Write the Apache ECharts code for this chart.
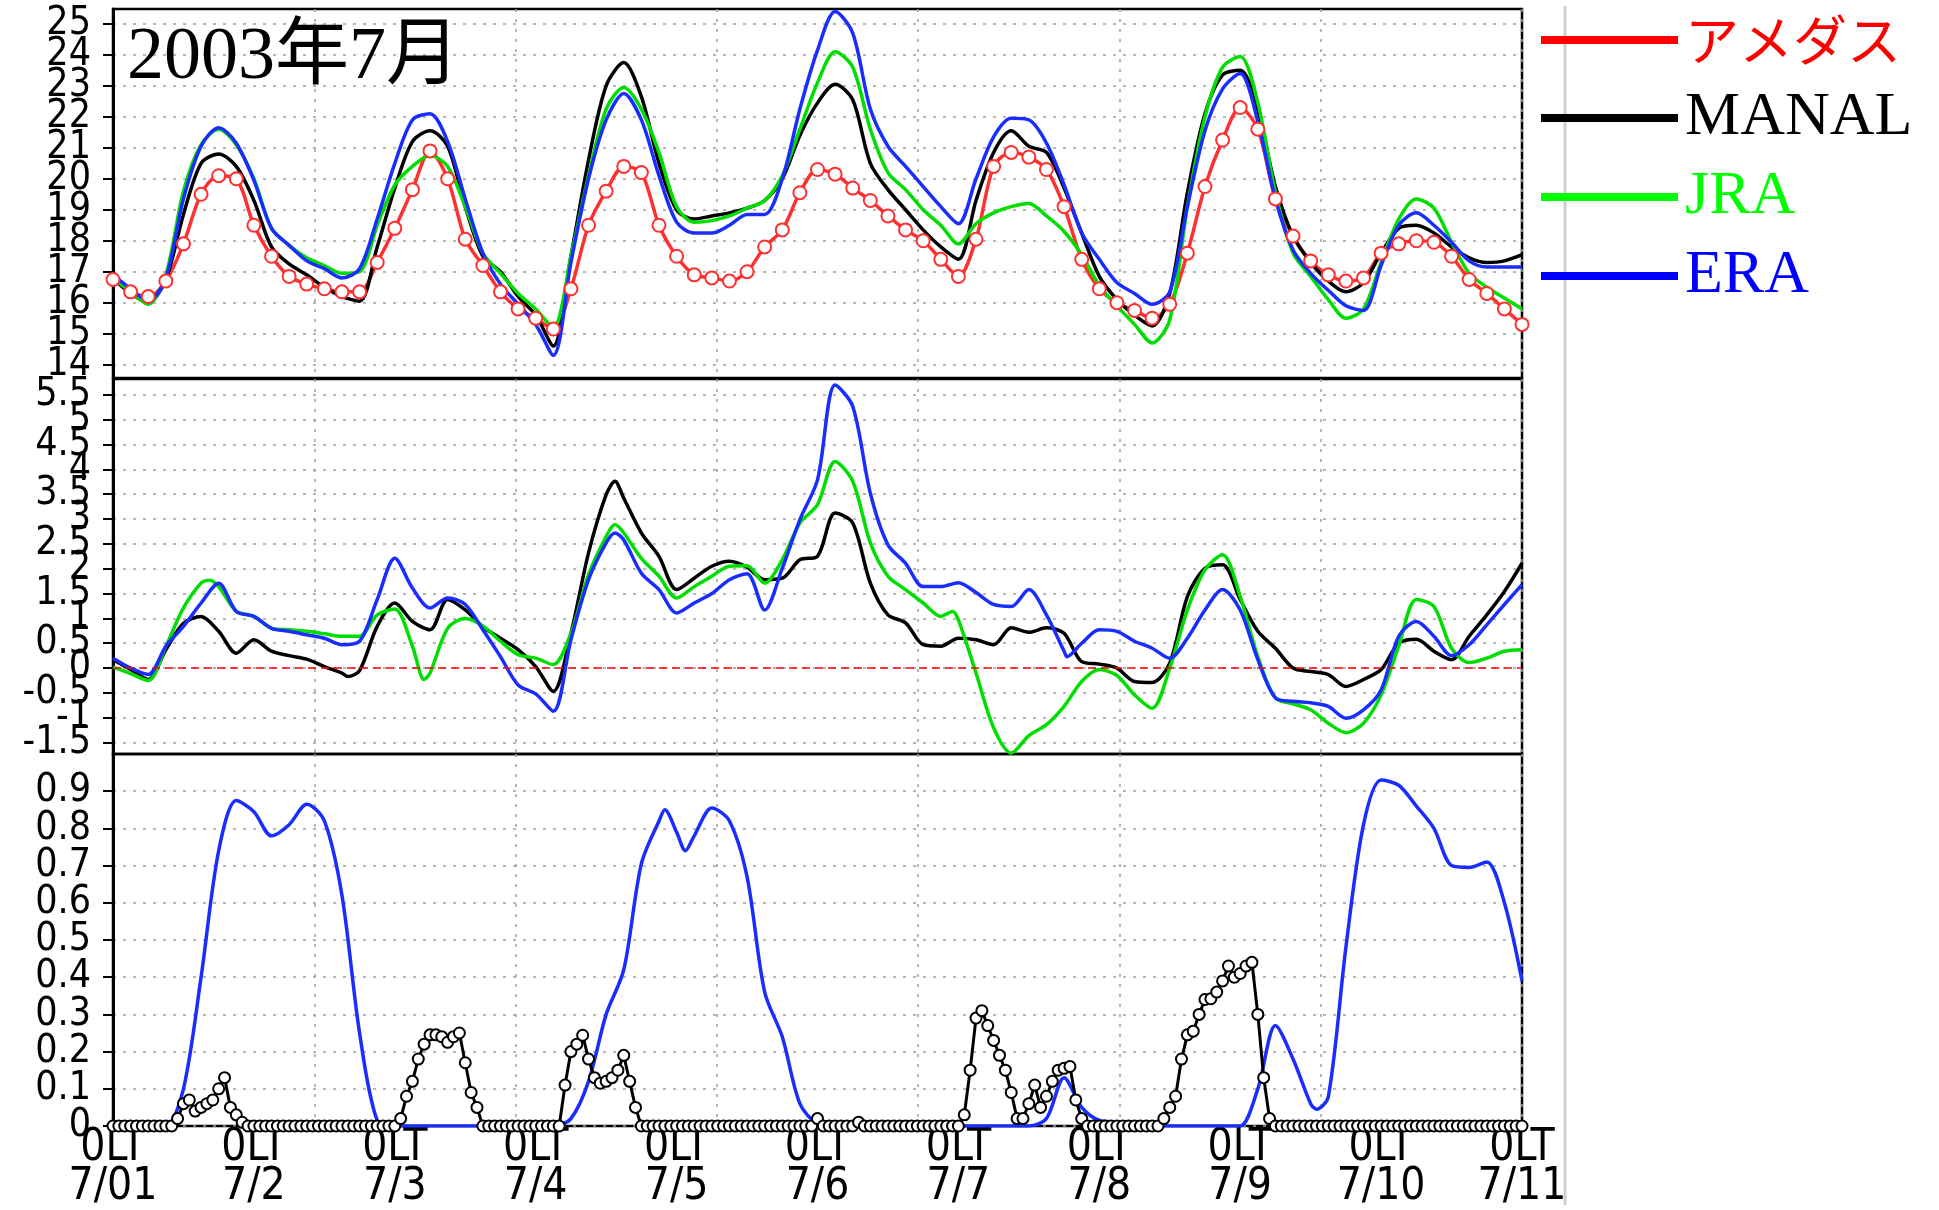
<!DOCTYPE html>
<html><head><meta charset="utf-8">
<script src="https://cdn.jsdelivr.net/npm/echarts@6/dist/echarts.min.js"></script>
<style>html,body{margin:0;padding:0;background:#fff}#c{width:1939px;height:1210px}</style>
</head><body><div id="c"></div>
<script>
// ---------------- data ----------------
const xTickLabels = ['0LT\n7/01','0LT\n7/2','0LT\n7/3','0LT\n7/4','0LT\n7/5','0LT\n7/6','0LT\n7/7','0LT\n7/8','0LT\n7/9','0LT\n7/10','0LT\n7/11'];
const tempTicks = [14,15,16,17,18,19,20,21,22,23,24,25];
const diffTicks = [-1.5,-1,-0.5,0,0.5,1,1.5,2,2.5,3,3.5,4,4.5,5,5.5];
const rainTicks = [0,0.1,0.2,0.3,0.4,0.5,0.6,0.7,0.8,0.9];
const seriesNames = ['アメダス','MANAL','JRA','ERA'];
const titleText = '2003年7月';

// top panel: 3-hourly values starting 7/01 0LT
const tempAmedas = [16.75,16.35,16.2,16.7,17.9,19.5,20.1,20.0,
 18.5,17.5,16.85,16.6,16.45,16.35,16.35,17.3,
 18.4,19.65,20.9,20.0,18.05,17.2,16.35,15.8,
 15.5,15.15,16.45,18.5,19.6,20.4,20.2,18.5,
 17.5,16.9,16.8,16.7,17.0,17.8,18.35,19.55,
 20.3,20.15,19.7,19.3,18.8,18.35,18.0,17.4,
 16.85,18.05,20.4,20.85,20.7,20.3,19.1,17.4,
 16.45,16.0,15.75,15.5,15.95,17.6,19.75,21.25,
 22.3,21.6,19.35,18.15,17.35,16.9,16.7,16.8,
 17.6,17.9,18.0,17.95,17.5,16.75,16.3,15.8,
 15.3];
const tempManal = [16.8,16.3,16.0,16.75,18.85,20.5,20.8,20.4,
 19.3,17.8,17.25,16.9,16.5,16.2,16.05,17.8,
 19.7,21.2,21.55,21.05,19.1,17.5,17.0,16.2,
 15.6,14.6,17.5,20.6,23.0,23.75,22.65,20.5,
 19.0,18.7,18.8,18.9,19.05,19.3,20.0,21.4,
 22.45,23.05,22.55,20.5,19.65,19.0,18.35,17.8,
 17.4,19.3,20.85,21.55,21.05,20.85,19.7,18.25,
 16.85,16.1,15.6,15.25,16.3,19.55,22.1,23.35,
 23.5,22.2,19.75,18.15,17.3,16.7,16.35,16.65,
 17.6,18.4,18.5,18.25,17.8,17.45,17.3,17.35,
 17.55];
const tempJra = [16.8,16.35,15.95,16.9,19.6,21.1,21.6,21.1,
 20.0,18.4,17.85,17.45,17.2,16.95,17.0,18.5,
 19.8,20.4,20.75,20.4,19.1,17.6,16.95,16.3,
 15.8,15.2,17.5,20.1,22.25,22.95,22.25,20.85,
 19.1,18.6,18.65,18.8,19.05,19.3,20.1,21.6,
 23.1,24.1,23.6,21.6,20.2,19.65,19.0,18.5,
 17.9,18.55,18.9,19.1,19.2,18.8,18.3,17.55,
 16.55,15.9,15.3,14.7,15.45,19.1,22.0,23.6,
 23.95,22.45,19.55,17.6,16.85,16.1,15.5,15.8,
 17.3,18.7,19.35,19.05,17.95,16.95,16.5,16.15,
 15.8];
const tempEra = [16.9,16.45,16.05,16.8,19.35,21.05,21.65,21.15,
 19.95,18.4,17.85,17.35,17.1,16.8,17.1,18.7,
 20.5,21.9,22.1,21.2,19.35,17.6,16.6,15.95,
 15.3,14.3,17.3,20.0,21.9,22.75,21.9,20.1,
 18.6,18.25,18.25,18.5,18.85,18.85,20.0,22.25,
 24.15,25.4,24.7,22.25,21.05,20.4,19.75,19.1,
 18.55,20.0,21.35,21.95,21.9,21.15,19.8,18.25,
 17.4,16.65,16.3,15.95,16.35,19.1,21.55,22.9,
 23.4,21.85,19.35,17.7,16.95,16.4,15.9,15.75,
 17.2,18.5,18.9,18.5,17.95,17.35,17.15,17.15,
 17.15];

// middle panel: 3-hourly values, plus a few extra [hour, value] points at extremes
const diffManal = [0.17,-0.03,-0.23,0.37,0.9,1.04,0.74,0.3,
 0.57,0.34,0.25,0.18,0.03,-0.1,-0.05,0.84,
 1.31,0.94,0.77,1.38,1.17,0.83,0.6,0.37,
 0.03,-0.47,0.7,2.32,3.49,3.42,2.72,2.25,
 1.58,1.81,2.05,2.15,2.03,1.78,1.81,2.18,
 2.25,3.12,2.92,1.71,1.07,0.91,0.47,0.44,
 0.6,0.57,0.47,0.81,0.72,0.81,0.7,0.13,
 0.08,0.0,-0.27,-0.29,0.1,1.44,2.01,2.08,
 1.38,0.74,0.4,0.0,-0.07,-0.13,-0.37,-0.23,
 -0.03,0.5,0.58,0.34,0.17,0.64,1.07,1.54,
 2.11];
const diffManalExtra = [[40,-0.17],[85.5,3.76]];
const diffJra = [0.02,-0.11,-0.25,0.44,1.21,1.71,1.64,1.14,
 1.04,0.8,0.77,0.74,0.69,0.64,0.64,1.07,
 1.19,0.44,-0.1,0.8,1.0,0.85,0.54,0.27,
 0.2,0.07,0.7,1.88,2.65,2.72,2.21,1.85,
 1.41,1.64,1.85,2.05,2.06,1.71,2.18,2.92,
 3.29,4.16,3.76,2.52,1.85,1.58,1.31,1.04,
 0.97,-0.1,-1.2,-1.71,-1.36,-1.14,-0.77,-0.27,
 -0.03,-0.15,-0.54,-0.81,0.0,1.17,1.98,2.28,
 1.44,0.23,-0.6,-0.72,-0.84,-1.11,-1.3,-1.11,
 -0.54,0.44,1.38,1.24,0.4,0.11,0.2,0.34,
 0.37];
const diffJraExtra = [[16.5,1.77],[53,-0.23],[85.5,2.89],[143,1.14]];
const diffEra = [0.2,0.0,-0.13,0.44,0.84,1.31,1.71,1.14,
 1.04,0.8,0.74,0.67,0.6,0.47,0.54,1.38,
 2.21,1.61,1.21,1.41,1.28,0.77,0.23,-0.34,
 -0.52,-0.87,0.57,1.78,2.52,2.58,1.91,1.58,
 1.11,1.31,1.5,1.78,1.9,1.17,2.01,2.99,
 3.79,5.7,5.27,3.52,2.48,2.11,1.64,1.64,
 1.72,1.52,1.28,1.24,1.58,1.07,0.34,0.5,
 0.77,0.74,0.54,0.4,0.2,0.6,1.17,1.58,
 1.17,0.17,-0.6,-0.67,-0.7,-0.77,-1.01,-0.84,
 -0.44,0.64,0.94,0.64,0.25,0.47,0.87,1.28,
 1.68];
const diffEraExtra = [[85.5,2.72],[162.5,0.23]];

// bottom panel: ERA 3-hourly, black marked series hourly
const lowerEra = [0,0,0,0,0.1,0.4,0.74,0.875,
 0.845,0.78,0.81,0.865,0.82,0.62,0.25,0.015,
 0,0,0,0,0,0,0,0,
 0,0,0.02,0.12,0.3,0.42,0.705,0.82,
 0.79,0.78,0.855,0.82,0.67,0.36,0.24,0.06,
 0.006,0,0,0,0,0,0,0,
 0,0,0,0,0,0.02,0.13,0.05,
 0.015,0.01,0,0,0,0,0,0,
 0,0.1,0.27,0.18,0.06,0.078,0.48,0.81,
 0.93,0.916,0.86,0.8,0.7,0.695,0.71,0.6,
 0.39];
const lowerEraExtra = [[94,0.85],[97.5,0.74],[205,0.045]];
const lowerManal = [
 0,0,0,0,0,0,0,0,0,0,0,0.02,0.06,0.07,0.04,0.05,0.06,0.07,0.10,0.13,0.05,0.03,0.01,0,
 0,0,0,0,0,0,0,0,0,0,0,0,0,0,0,0,0,0,0,0,0,0,0,0,
 0,0.02,0.08,0.12,0.18,0.22,0.245,0.245,0.24,0.225,0.24,0.25,0.17,0.09,0.05,0,0,0,0,0,0,0,0,0,
 0,0,0,0,0,0.11,0.2,0.22,0.244,0.18,0.13,0.115,0.12,0.13,0.15,0.19,0.12,0.05,0,0,0,0,0,0,
 0,0,0,0,0,0,0,0,0,0,0,0,0,0,0,0,0,0,0,0,0,0,0,0,
 0.02,0,0,0,0,0,0,0.01,0,0,0,0,0,0,0,0,0,0,0,0,0,0,0,0,
 0,0.03,0.15,0.29,0.31,0.27,0.23,0.19,0.15,0.09,0.02,0.02,0.06,0.11,0.05,0.08,0.12,0.15,0.155,0.16,0.07,0.02,0,0,
 0,0,0,0,0,0,0,0,0,0,0,0.02,0.05,0.08,0.18,0.245,0.255,0.3,0.34,0.342,0.36,0.39,0.43,0.4,
 0.41,0.43,0.44,0.3,0.13,0.02,0,0,0,0,0,0,0,0,0,0,0,0,0,0,0,0,0,0,
 0,0,0,0,0,0,0,0,0,0,0,0,0,0,0,0,0,0,0,0,0,0,0,0,
 0];

// ---------------- build ----------------
function every3h(values, extra) {
  const pts = values.map((v, i) => [i * 3, v]);
  if (extra) extra.forEach(p => pts.push(p));
  pts.sort((a, b) => a[0] - b[0]);
  return pts;
}
function hourly(values) { return values.map((v, i) => [i, v]); }

const C = { red: '#ff3030', black: '#000000', green: '#00dd00', blue: '#1a2dff' };
const axisFont = '"Liberation Sans Narrow","DejaVu Sans Condensed","Arial Narrow",sans-serif';
const gridDash = { color: '#a0a0a0', type: [3, 7], width: 1.5 };
const vDivisions = 7;

const grids = [
  { left: 113, top: 9, width: 1409, height: 369 },
  { left: 113, top: 379, width: 1409, height: 375 },
  { left: 113, top: 754, width: 1409, height: 372 }
].map(g => Object.assign(g, { show: true, borderColor: '#000', borderWidth: 2.5 }));

const xAxes = [];
for (let g = 0; g < 3; g++) {
  xAxes.push({
    type: 'value', gridIndex: g, min: 0, max: 240, interval: 24, position: 'bottom',
    axisLine: { show: false }, axisTick: { show: false }, splitLine: { show: false },
    axisLabel: {
      show: g === 2, formatter: v => xTickLabels[Math.round(v / 24)],
      fontFamily: axisFont, fontSize: 44, lineHeight: 39, color: '#000', margin: 3,
      showMinLabel: true, showMaxLabel: true, hideOverlap: false
    }
  });
  xAxes.push({
    type: 'value', gridIndex: g, min: 0, max: vDivisions, interval: 1, position: 'top',
    axisLine: { show: false }, axisTick: { show: false }, axisLabel: { show: false },
    splitLine: { show: true, lineStyle: gridDash }
  });
}

// Two y axes per panel: the first carries line, ticks, grid and every other label;
// the second (same scale, labels only) carries the remaining labels so none are dropped.
function labelStyle(vals) {
  return { customValues: vals, formatter: v => String(v), fontFamily: axisFont, fontSize: 39,
    color: '#000', margin: 22, hideOverlap: false, showMinLabel: true, showMaxLabel: true };
}
function yAxisPair(g, min, max, ticks) {
  const even = ticks.filter((_, i) => i % 2 === 0);
  const odd = ticks.filter((_, i) => i % 2 === 1);
  return [{
    type: 'value', gridIndex: g, min: min, max: max, position: 'left',
    axisLine: { show: true, lineStyle: { color: '#000', width: 3 } },
    axisTick: { show: true, customValues: ticks, length: 10, lineStyle: { color: '#000', width: 2 } },
    axisLabel: labelStyle(even),
    splitLine: { show: true, lineStyle: gridDash }
  }, {
    type: 'value', gridIndex: g, min: min, max: max, position: 'left', offset: 0,
    axisLine: { show: false }, axisTick: { show: false }, splitLine: { show: false },
    axisLabel: labelStyle(odd)
  }];
}
const yAxes = [].concat(
  yAxisPair(0, 13.57, 25.48, tempTicks),
  yAxisPair(1, -1.73, 5.82, diffTicks),
  yAxisPair(2, 0, 1.0, rainTicks)
);

function lineSeries(name, color, xi, yi, data, extra) {
  return Object.assign({
    type: 'line', name: name, xAxisIndex: xi, yAxisIndex: yi, data: data,
    showSymbol: false, smooth: 0.3, animation: false,
    lineStyle: { color: color, width: 3.5 }, itemStyle: { color: color }
  }, extra || {});
}

const series = [
  lineSeries(seriesNames[0], C.red, 0, 0, every3h(tempAmedas), {
    showSymbol: true, symbol: 'emptyCircle', symbolSize: 13,
    lineStyle: { color: C.red, width: 3.5 }, itemStyle: { color: C.red, borderColor: C.red, borderWidth: 3.5 }
  }),
  lineSeries(seriesNames[1], C.black, 0, 0, every3h(tempManal)),
  lineSeries(seriesNames[2], C.green, 0, 0, every3h(tempJra)),
  lineSeries(seriesNames[3], C.blue, 0, 0, every3h(tempEra)),

  lineSeries(seriesNames[1], C.black, 2, 2, every3h(diffManal, diffManalExtra), {
    markLine: { silent: true, symbol: 'none', label: { show: false }, animation: false,
      lineStyle: { color: '#ff0000', type: [8, 5], width: 1.5 }, data: [{ yAxis: 0 }] }
  }),
  lineSeries(seriesNames[2], C.green, 2, 2, every3h(diffJra, diffJraExtra)),
  lineSeries(seriesNames[3], C.blue, 2, 2, every3h(diffEra, diffEraExtra)),

  lineSeries(seriesNames[3], C.blue, 4, 4, every3h(lowerEra, lowerEraExtra)),
  lineSeries(seriesNames[1], C.black, 4, 4, hourly(lowerManal), {
    smooth: false, showSymbol: true, symbol: 'emptyCircle', symbolSize: 11,
    lineStyle: { color: C.black, width: 3 }, itemStyle: { color: C.black, borderColor: C.black, borderWidth: 2.5 }
  })
];

const legendColors = ['#ff0000', '#000000', '#00ff00', '#0000ff'];
const option = {
  backgroundColor: '#fff',
  animation: false,
  title: {
    text: titleText, left: 122, top: 17,
    textStyle: { fontFamily: '"Liberation Serif","Noto Sans CJK JP",serif', fontSize: 74, fontWeight: 'normal', color: '#000' }
  },
  legend: {
    orient: 'vertical', left: 1541, top: 10, padding: 0, itemWidth: 137, itemHeight: 8, itemGap: 17,
    selectedMode: false, icon: 'rect',
    textStyle: { fontFamily: '"Liberation Serif","Times New Roman",serif', fontSize: 62, lineHeight: 60, padding: [0, 0, 0, 2] },
    data: seriesNames.map((n, i) => ({
      name: n, icon: 'rect',
      itemStyle: { color: legendColors[i], borderWidth: 0 },
      textStyle: i === 0
        ? { color: legendColors[i], fontFamily: '"Noto Sans CJK JP",sans-serif', fontSize: 54 }
        : { color: legendColors[i] }
    }))
  },
  graphic: [{
    type: 'line', silent: true, z: 0,
    shape: { x1: 1565, y1: 6, x2: 1565, y2: 1205 },
    style: { stroke: '#d3cfc7', lineWidth: 3 }
  }],
  grid: grids,
  xAxis: xAxes,
  yAxis: yAxes,
  series: series
};

const chart = echarts.init(document.getElementById('c'), null, { renderer: 'canvas' });
chart.setOption(option);
</script>
</body></html>
